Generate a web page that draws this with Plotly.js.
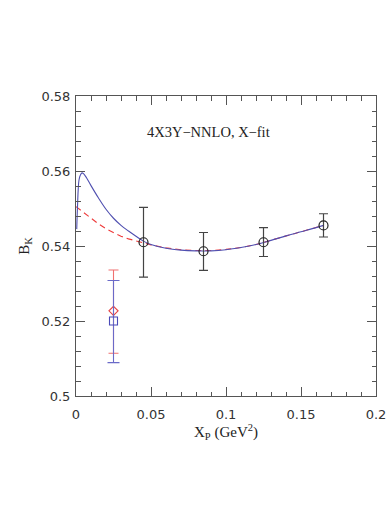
<!DOCTYPE html>
<html>
<head>
<meta charset="utf-8">
<script src="https://cdn.plot.ly/plotly-3.0.1.min.js"></script>
<style>html,body{margin:0;padding:0;background:#fff;}#chart{width:391px;height:506px;}</style>
</head>
<body>
<div id="chart"></div>
<script>
// Lattice data points (black circles)
const dataX = [0.045, 0.085, 0.125, 0.165];
const dataY = [0.5410, 0.5386, 0.5410, 0.5455];
const dataErrPlus = [0.0093, 0.0050, 0.0039, 0.0031];
const dataErrMinus = [0.0093, 0.0051, 0.0038, 0.0031];

// Extrapolated points at physical x
const redX = [0.025];
const redY = [0.5227];
const redErrPlus = [0.0109];
const redErrMinus = [0.0113];

const blueX = [0.025];
const blueY = [0.5200];
const blueErrPlus = [0.0108];
const blueErrMinus = [0.0111];

// Fit curves
const blueCurveX = [0.0005, 0.001, 0.002, 0.003, 0.004, 0.005, 0.007, 0.01, 0.015, 0.02, 0.025, 0.03, 0.035, 0.04, 0.045, 0.05, 0.06, 0.07, 0.08, 0.09, 0.1, 0.11, 0.12, 0.13, 0.14, 0.15, 0.16, 0.165];
const blueCurveY = [0.5445, 0.5505, 0.5576, 0.5590, 0.5595, 0.5593, 0.5582, 0.5561, 0.5528, 0.5498, 0.5474, 0.5455, 0.5440, 0.5426, 0.5413, 0.5404, 0.5394, 0.5389, 0.5387, 0.5387, 0.5390, 0.5396, 0.5404, 0.5415, 0.5427, 0.5438, 0.5449, 0.5455];
const redCurveX = [0, 0.005, 0.01, 0.015, 0.02, 0.025, 0.03, 0.035, 0.04, 0.045, 0.05, 0.06, 0.07, 0.08, 0.09, 0.1, 0.11, 0.12, 0.13, 0.14, 0.15, 0.16, 0.165];
const redCurveY = [0.5505, 0.5489, 0.5473, 0.5459, 0.5446, 0.5435, 0.5426, 0.5419, 0.5413, 0.5409, 0.5403, 0.5395, 0.5390, 0.5388, 0.5388, 0.5391, 0.5396, 0.5404, 0.5415, 0.5427, 0.5438, 0.5449, 0.5455];

// Ticks
const xTickVals = [0, 0.05, 0.1, 0.15, 0.2];
const xTickText = ["0", "0.05", "0.1", "0.15", "0.2"];
const yTickVals = [0.5, 0.52, 0.54, 0.56, 0.58];
const yTickText = ["0.5", "0.52", "0.54", "0.56", "0.58"];

const traces = [
  {x: redCurveX, y: redCurveY, mode: 'lines', line: {color: '#ee3b3b', width: 1.1, dash: '6px,4px'}, hoverinfo: 'skip'},
  {x: blueCurveX, y: blueCurveY, mode: 'lines', line: {color: '#4f4fb0', width: 1.1, shape: 'spline'}, hoverinfo: 'skip'},
  {x: dataX, y: dataY, mode: 'markers', marker: {symbol: 'circle-open', size: 9, color: '#222', line: {width: 1.2}},
   error_y: {type: 'data', symmetric: false, array: dataErrPlus, arrayminus: dataErrMinus, color: '#444', thickness: 1.2, width: 4.5}},
  {x: redX, y: redY, mode: 'markers', marker: {symbol: 'diamond-open', size: 7, color: '#e84545', line: {width: 1.1}},
   error_y: {type: 'data', symmetric: false, array: redErrPlus, arrayminus: redErrMinus, color: '#f07070', thickness: 1.1, width: 5}},
  {x: blueX, y: blueY, mode: 'markers', marker: {symbol: 'square-open', size: 8, color: '#4a4ab8', line: {width: 1.1}},
   error_y: {type: 'data', symmetric: false, array: blueErrPlus, arrayminus: blueErrMinus, color: '#6a6ac8', thickness: 1.1, width: 6}}
];

const axisCommon = {
  showline: true, linecolor: '#555', linewidth: 1, mirror: 'ticks',
  ticks: 'inside', ticklen: 9, tickcolor: '#555', tickwidth: 1,
  showgrid: false, zeroline: false,
  tickfont: {family: 'DejaVu Sans, sans-serif', size: 13, color: '#333'}
};

const layout = {
  width: 391, height: 506,
  margin: {l: 76, r: 15, t: 96, b: 110},
  paper_bgcolor: '#fff', plot_bgcolor: '#fff',
  showlegend: false,
  xaxis: Object.assign({}, axisCommon, {
    range: [0, 0.2], tickmode: 'array', tickvals: xTickVals, ticktext: xTickText,
    ticklabelstandoff: 6,
    minor: {dtick: 0.01, ticks: 'inside', ticklen: 4.5, tickcolor: '#555', showgrid: false},
    title: {text: 'X<sub>P</sub> (GeV<sup>2</sup>)', standoff: 4, font: {family: 'Liberation Serif, serif', size: 15, color: '#222'}}
  }),
  yaxis: Object.assign({}, axisCommon, {
    range: [0.5, 0.58], tickmode: 'array', tickvals: yTickVals, ticktext: yTickText,
    ticklabelstandoff: 2,
    minor: {dtick: 0.004, ticks: 'inside', ticklen: 4.5, tickcolor: '#555', showgrid: false},
    title: {text: 'B<sub>K</sub>', standoff: 8, font: {family: 'Liberation Serif, serif', size: 15, color: '#222'}}
  }),
  annotations: [{
    x: 0.088, y: 0.5705, xref: 'x', yref: 'y', showarrow: false,
    text: '4X3Y\u2212NNLO, X\u2212fit',
    font: {family: 'Liberation Serif, serif', size: 14.5, color: '#222'}
  }]
};

Plotly.newPlot('chart', traces, layout, {staticPlot: true, displayModeBar: false});
</script>
</body>
</html>
